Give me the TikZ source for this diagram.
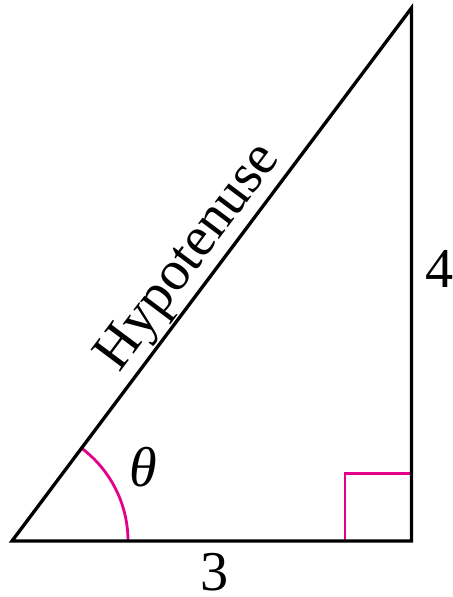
\documentclass[tikz,border=0pt]{standalone}
\usepackage{fontspec}
\setmainfont{Liberation Serif}
\usepackage{xcolor}
\usepackage{tikz}
\usetikzlibrary{calc}
\definecolor{anglepink}{RGB}{228,0,140}

\begin{document}
\begin{tikzpicture}[
    side/.style={line width=1.9pt, line join=miter},
    anglemark/.style={anglepink, line width=1.6pt},
    lbl/.style={font=\fontsize{32}{38}\selectfont}
  ]
    \useasboundingbox (0,0) rectangle (9.06,11.94);

    % Corners of the triangle
    \coordinate (A) at (0.24,1.12);
    \coordinate (B) at (8.23,1.12);
    \coordinate (C) at (8.23,11.78);

    % Angle marks
    \draw[anglemark] ($(A)+(2.32,0)$) arc[start angle=0, end angle=53.13, radius=2.32];
    \draw[anglemark] ($(B)+(-1.33,0)$) |- ($(B)+(0,1.35)$);

    % Sides
    \draw[side] (A) -- (B) -- (C) -- cycle;
    \path (A) -- (C) node[midway, sloped, above, lbl, inner sep=0.14em] (hyp) {Hypotenuse};

    % Text
    \node[lbl] (theta) at (2.86,2.60) {\itshape θ};
    \node[lbl] (base) at (4.30,0.50) {3};
    \node[lbl] (height) at (8.80,6.56) {4};
\end{tikzpicture}
\end{document}
